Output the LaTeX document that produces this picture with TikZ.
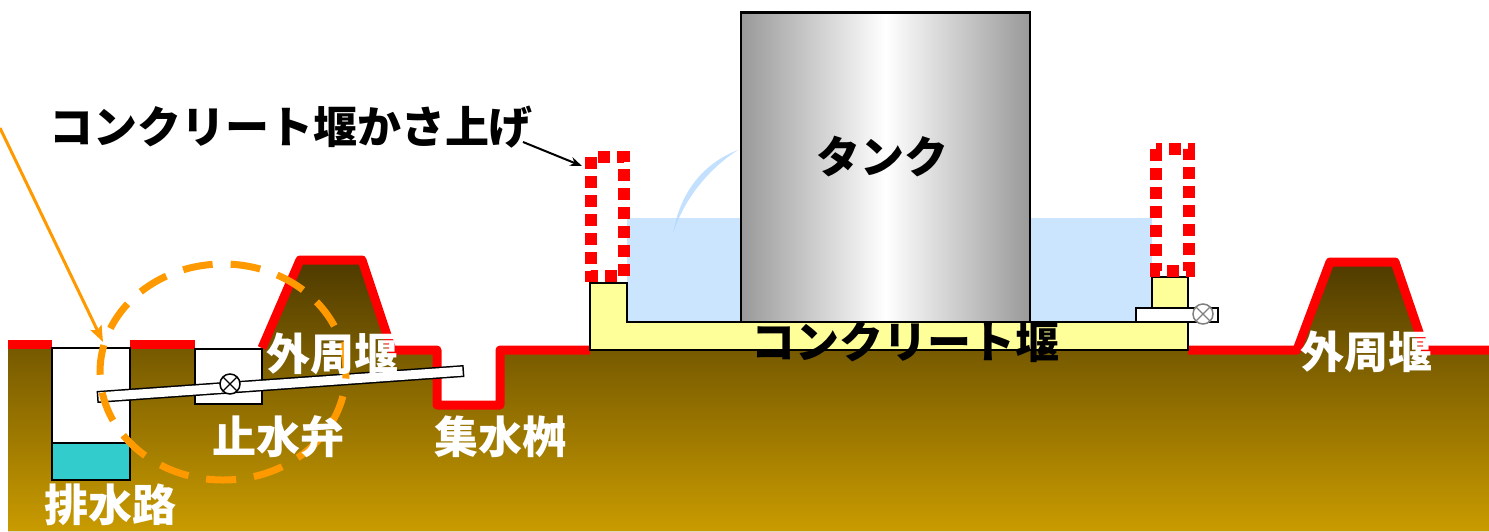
\documentclass[tikz,border=0pt]{standalone}
\usepackage{fontspec}
\newfontfamily\jp{Noto Sans CJK JP}
\usetikzlibrary{arrows.meta}
\definecolor{soiltop}{HTML}{4E3A00}
\definecolor{soilbot}{HTML}{C99B00}
\definecolor{bund}{HTML}{FF0000}
\definecolor{concrete}{HTML}{FFFF99}
\definecolor{water}{HTML}{CCE5FF}
\definecolor{splash}{HTML}{B4D8FF}
\definecolor{drain}{HTML}{33CCCC}
\definecolor{hilite}{HTML}{FF9900}
\definecolor{steel}{HTML}{999999}
\newcommand\jpbig{\jp\bfseries\fontsize{44}{50}\selectfont}
\tikzset{>=stealth}

\begin{document}
\begin{tikzpicture}[x=1pt,y=-1pt,
  redline/.style={bund, line width=9pt, line join=round},
  pitbox/.style={draw=black, line width=1.5pt, fill=white},
  raisebox/.style={bund, line width=12pt, dash pattern=on 12pt off 7pt},
  whitetext/.style={white, inner sep=0pt, font=\jpbig},
  blacktext/.style={black, inner sep=0pt, font=\jpbig}]
\useasboundingbox (0,0) rectangle (1489,531);
\fill[top color=soiltop, bottom color=soilbot] (8,531) -- (8,348) -- (262,348) -- (300,260) -- (362,260) -- (392,350) -- (437,350) -- (437,405) -- (500,405) -- (500,350) -- (1297,350) -- (1330,262) -- (1395,262) -- (1425,350) -- (1489,350) -- (1489,531) -- cycle;
\draw[redline] (8,344) -- (52,344);
\draw[redline] (130,344) -- (195,344);
\draw[redline] (262,348) -- (300,260) -- (362,260) -- (392,350) -- (437,350) -- (437,405) -- (500,405) -- (500,350) -- (590,350);
\draw[redline] (1188,350) -- (1297,350) -- (1330,262) -- (1395,262) -- (1425,350) -- (1489,350);
\draw[pitbox] (52,348) rectangle (130,480);
\draw[pitbox, fill=drain] (52,443) rectangle (130,480);
\draw[pitbox] (195,349) rectangle (262,404);
\fill[water] (627,218) rectangle (1152,322);
\fill[splash, opacity=0.8] (673,234) .. controls (680,190) and (706,162) .. (738,150) .. controls (710,168) and (684,198) .. (673,234) -- cycle;
\draw[fill=concrete, line width=1.5pt] (590,350) -- (590,283) -- (627,283) -- (627,322) -- (1152,322) -- (1152,277) -- (1188,277) -- (1188,350) -- cycle;
\draw[left color=steel, right color=steel, middle color=white, line width=1.5pt] (741,12) rectangle (1030,322);
\draw[line width=3pt] (741,12) -- (1030,12);
\draw[raisebox] (591,157) rectangle (624,276);
\draw[raisebox] (1156,149) rectangle (1189,271);
\coordinate (pipeL) at (97,397);
\coordinate (pipeR) at (464,371);
\draw[line width=12pt] (pipeL) -- (pipeR);
\draw[white, line width=9pt, shorten <=1.5pt, shorten >=1.5pt] (pipeL) -- (pipeR);
\draw[fill=white, line width=1.5pt] (1136,308) rectangle (1218,322);
\coordinate (valveL) at (230,384);
\coordinate (valveR) at (1203,314);
\foreach \v/\c in {valveL/black, valveR/gray}
{
\draw[\c, fill=white, line width=1.5pt] (\v) circle (10pt);
\draw[\c, line width=1.2pt] (\v) ++(-7,-7) -- ++(14,14);
\draw[\c, line width=1.2pt] (\v) ++(-7,7) -- ++(14,-14);
}
\draw[hilite, line width=7pt, dash pattern=on 30pt off 18pt] (223,372) ellipse [x radius=123pt, y radius=108pt];
\coordinate (farend) at (0,128);
\coordinate (drainmouth) at (103,342);
\draw[hilite, line width=3pt, -{Stealth[length=16pt, width=12pt, inset=3pt]}] (farend) -- (drainmouth);
\node[blacktext] (raise) at (291,127) {コンクリート堰かさ上げ};
\coordinate (raisetail) at (523,142);
\coordinate (raisetip) at (582,166);
\draw[line width=2pt, -{Stealth[length=12pt, width=9pt]}] (raisetail) -- (raisetip);
\node[blacktext] (tank) at (882,157) {タンク};
\node[blacktext] (dike) at (905,342) {コンクリート堰};
\node[whitetext] (bankL) at (332,354) {外周堰};
\node[whitetext] (bankR) at (1366,352) {外周堰};
\node[whitetext] (stopvalve) at (278,437) {止水弁};
\node[whitetext] (sump) at (500,437) {集水桝};
\node[whitetext] (channel) at (110,505) {排水路};
\end{tikzpicture}
\end{document}
